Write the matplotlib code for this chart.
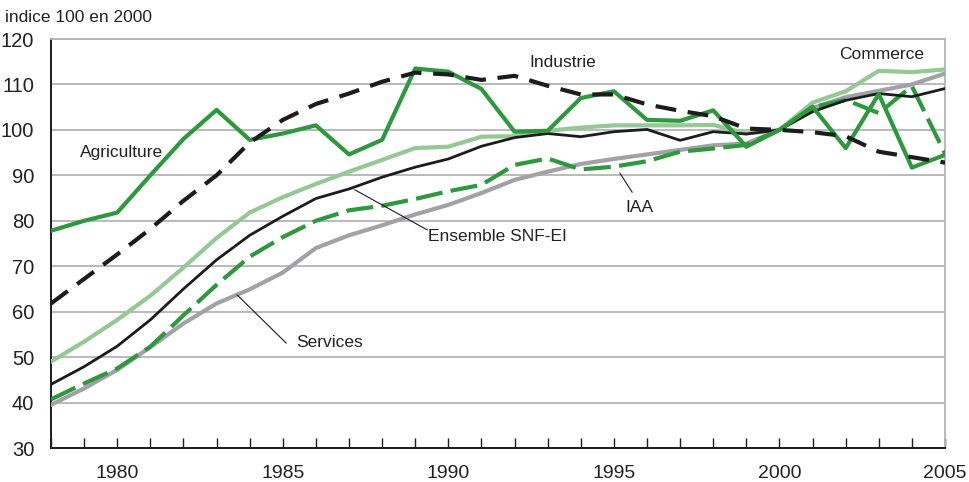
import matplotlib
matplotlib.use("Agg")
import matplotlib.pyplot as plt
from matplotlib.ticker import MultipleLocator

plt.rcParams['font.family'] = ['Liberation Sans', 'DejaVu Sans']

years = list(range(1978, 2006))

agriculture = [77.8, 80.0, 81.8, 90.0, 98.0, 104.4, 97.8, 99.2, 101.0, 94.6, 97.8, 113.5,
               112.8, 109.0, 99.6, 99.8, 107.0, 108.5, 102.2, 102.0, 104.3, 96.3, 100.0,
               105.1, 96.0, 107.9, 91.7, 94.5]
industrie = [61.8, 67.2, 72.6, 78.2, 84.4, 90.0, 97.2, 102.2, 105.7, 108.0, 110.6, 112.6,
             112.2, 111.0, 111.9, 109.7, 107.8, 107.8, 105.6, 104.2, 103.0, 100.3, 100.0,
             99.5, 98.6, 95.2, 94.0, 92.8]
commerce = [49.0, 53.4, 58.2, 63.5, 69.7, 76.2, 81.8, 85.2, 88.1, 90.8, 93.4, 96.0,
            96.3, 98.5, 98.6, 99.8, 100.5, 101.0, 101.0, 101.0, 101.1, 99.2, 100.0,
            106.0, 108.5, 113.0, 112.7, 113.3]
ensemble = [44.0, 47.9, 52.4, 58.2, 65.0, 71.4, 76.8, 81.0, 84.9, 87.0, 89.6, 91.8,
            93.6, 96.4, 98.3, 99.2, 98.5, 99.6, 100.1, 97.7, 99.6, 99.1, 100.0,
            104.0, 106.5, 108.0, 107.3, 109.1]
services = [39.5, 43.1, 47.2, 52.2, 57.4, 61.8, 64.9, 68.6, 74.0, 76.8, 79.0, 81.4,
            83.5, 86.1, 89.0, 90.8, 92.5, 93.6, 94.6, 95.6, 96.6, 97.0, 100.0,
            104.8, 107.2, 108.6, 110.0, 112.4]
iaa = [40.7, 44.2, 47.5, 52.3, 59.2, 65.9, 72.1, 76.4, 80.0, 82.3, 83.3, 84.8,
       86.5, 87.9, 92.3, 93.7, 91.3, 91.9, 93.1, 95.2, 95.9, 96.7, 100.0,
       105.0, 106.6, 103.7, 109.6, 94.8]

dark_green = '#2b9a3b'
light_green = '#93c993'
grey = '#a2a2a6'
black = '#1c1c1c'
txt = '#222222'

fig = plt.figure(figsize=(9.7, 4.82), dpi=100)
ax = fig.add_axes([51 / 970, 1 - 448 / 482, (945 - 51) / 970, (448 - 39) / 482])

ax.plot(years, services, color=grey, lw=3.0, zorder=3)
ax.plot(years, commerce, color=light_green, lw=3.0, zorder=3)
ax.plot(years, iaa, color=dark_green, lw=3.0, dashes=(6.5, 2.0), zorder=4)
ax.plot(years, ensemble, color=black, lw=2.0, zorder=5)
ax.plot(years, agriculture, color=dark_green, lw=3.0, zorder=5)
ax.plot(years, industrie, color=black, lw=3.0, dashes=(5, 2.8), zorder=6)

ax.set_xlim(1978, 2005)
ax.set_ylim(30, 120)
ax.set_xticks([1980, 1985, 1990, 1995, 2000, 2005])
ax.xaxis.set_minor_locator(MultipleLocator(1))
ax.set_yticks(range(30, 121, 10))
ax.yaxis.grid(True, color='#b4b4b8', lw=1.3)
ax.set_axisbelow(True)

ax.tick_params(axis='x', which='both', direction='in', length=7, width=1, color=black,
               labelsize=14, pad=12, labelcolor=txt)
ax.tick_params(axis='y', length=0, labelsize=14.5, pad=12, labelcolor=txt)

for s in ['top', 'right']:
    ax.spines[s].set_color('#b4b4b8')
    ax.spines[s].set_linewidth(1.3)
for s in ['left', 'bottom']:
    ax.spines[s].set_color(black)
    ax.spines[s].set_linewidth(1.4)

fig.text(5 / 970, 1 - 18 / 482, 'indice 100 en 2000', fontsize=12.5, va='center', ha='left',
         color=txt)

ax.text(1978.88, 95.1, 'Agriculture', fontsize=12.5, ha='left', va='center', color=txt)
ax.text(1992.45, 114.8, 'Industrie', fontsize=12.5, ha='left', va='center', color=txt)
ax.text(2001.8, 116.5, 'Commerce', fontsize=12.5, ha='left', va='center', color=txt)
ax.text(1995.34, 83.0, 'IAA', fontsize=12.5, ha='left', va='center', color=txt)
ax.text(1989.39, 76.6, 'Ensemble SNF-EI', fontsize=12.5, ha='left', va='center', color=txt)
ax.text(1985.4, 53.3, 'Services', fontsize=12.5, ha='left', va='center', color=txt)

ax.plot([1995.18, 1995.55], [90.5, 86.3], color=black, lw=0.8, zorder=7)
ax.plot([1987.18, 1989.36], [86.8, 78.0], color=black, lw=0.8, zorder=7)
ax.plot([1983.62, 1985.1], [63.7, 53.1], color=black, lw=0.8, zorder=7)

fig.savefig('out.png', dpi=100)
